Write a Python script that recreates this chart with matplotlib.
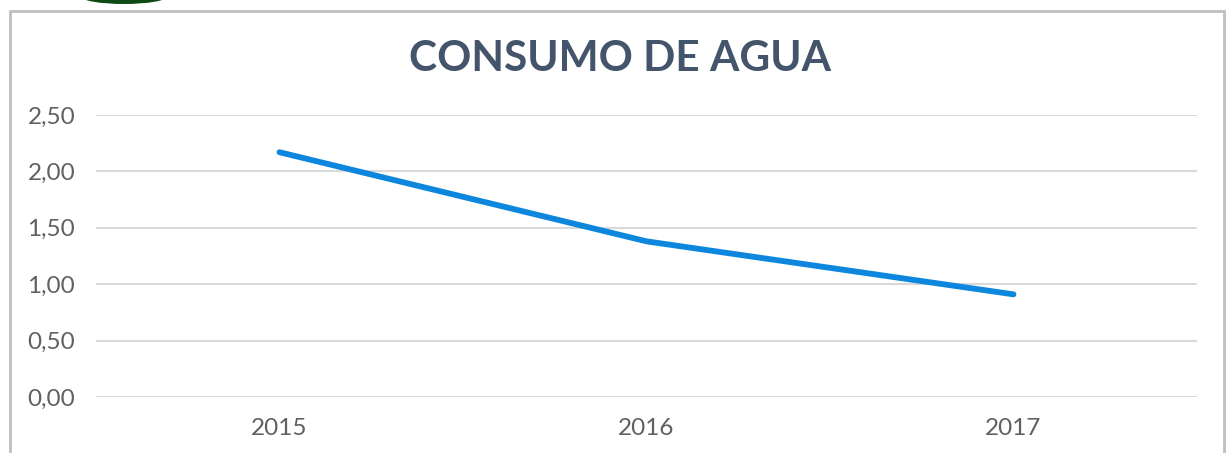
#!/usr/bin/env python3
"""Consumo de agua 2015-2017 line chart."""

import matplotlib

matplotlib.use("Agg")
import matplotlib.pyplot as plt
from matplotlib.patches import Ellipse, Rectangle
from matplotlib.ticker import FuncFormatter

years = ["2015", "2016", "2017"]
consumo = [2.17, 1.38, 0.91]
y_ticks = [0.0, 0.5, 1.0, 1.5, 2.0, 2.5]

W, H = 1228, 453
plt.rcParams["font.family"] = ["Lato", "DejaVu Sans"]

fig = plt.figure(figsize=(W / 100, H / 100), dpi=100)
ax = fig.add_axes([96 / W, 1 - 397 / H, (1197 - 96) / W, (397 - 115) / H])

x = list(range(len(years)))
ax.plot(x, consumo, color="#0C87DD", lw=4.2, solid_capstyle="round", zorder=3)

ax.set_xlim(-0.5, len(years) - 0.5)
ax.set_ylim(0, 2.5)
ax.set_xticks(x)
ax.set_xticklabels(years)
ax.set_yticks(y_ticks)
ax.yaxis.set_major_formatter(FuncFormatter(lambda v, _: f"{v:.2f}".replace(".", ",")))
ax.tick_params(axis="both", length=0, labelsize=17.5, labelcolor="#606060")
ax.tick_params(axis="y", pad=15)
ax.tick_params(axis="x", pad=15)
ax.grid(axis="y", color="#D9D9D9", lw=1.5)
ax.set_axisbelow(True)
for s in ax.spines.values():
    s.set_visible(False)

fig.text(620 / W, 1 - 59 / H, "CONSUMO DE AGUA", ha="center", va="center",
         fontsize=30.5, fontweight="bold", color="#44546A")

# outer chart frame (bottom edge is cropped in the source)
fig.patches.append(Rectangle((10 / W, -0.1), (1224 - 10) / W, 1.1 - 11 / H,
                             transform=fig.transFigure, fill=False,
                             edgecolor="#BFBFBF", lw=2))
# bit of the logo peeking in at the top
fig.patches.append(Ellipse((124 / W, 1 + 4 / H), 88 / W, 16 / H,
                           transform=fig.transFigure, facecolor="#0E4A14",
                           edgecolor="none"))

fig.savefig("out.png", dpi=100)
